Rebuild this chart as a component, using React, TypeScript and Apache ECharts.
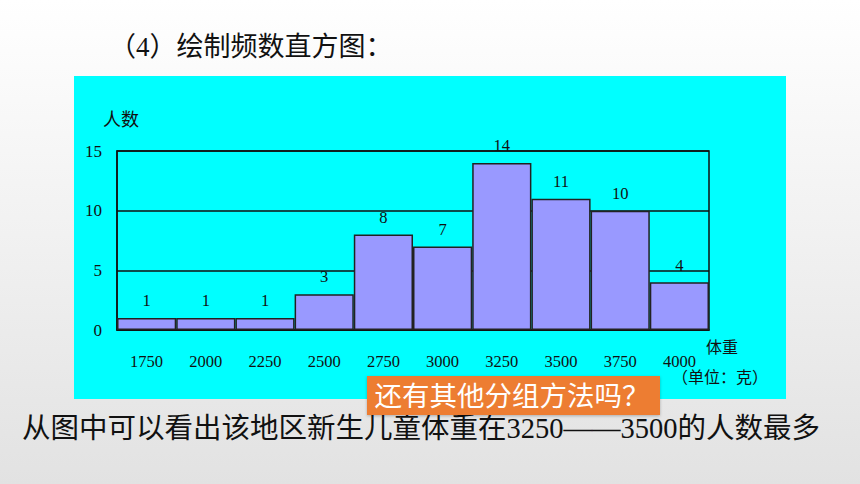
import React, { useEffect, useRef } from "react";
import * as echarts from "echarts";

const categories = ["1750", "2000", "2250", "2500", "2750", "3000", "3250", "3500", "3750", "4000"];
const counts = [1, 1, 1, 3, 8, 7, 14, 11, 10, 4];
const yMin = 0;
const yMax = 15;
const yInterval = 5;

const titleText = "（4）绘制频数直方图：";
const yName = "人数";
const xName = "体重";
const xUnit = "（单位：克）";
const questionText = "还有其他分组方法吗？";
const conclusionText = "从图中可以看出该地区新生儿童体重在3250——3500的人数最多";

const FONT = "'Liberation Serif', 'Noto Sans CJK SC', serif";

export default function App() {
  const ref = useRef<HTMLDivElement>(null);
  useEffect(() => {
    if (!ref.current) return;
    const chart = echarts.init(ref.current, undefined, { renderer: "svg" });
    chart.setOption({
      animation: false,
      backgroundColor: new echarts.graphic.LinearGradient(0, 0, 0, 1, [
        { offset: 0, color: "#ffffff" },
        { offset: 1, color: "#e2e2e2" },
      ]),
      textStyle: { fontFamily: FONT },
      grid: {
        left: 117,
        right: 151,
        top: 151,
        bottom: 154,
        show: true,
        borderColor: "#111",
        borderWidth: 1.5,
        z: 1,
      },
      xAxis: {
        type: "category",
        data: categories,
        boundaryGap: true,
        axisLine: { show: true, lineStyle: { color: "#111", width: 1.5 } },
        axisTick: { show: false },
        axisLabel: { color: "#111", fontSize: 16.5, fontFamily: FONT, margin: 23 },
        splitLine: { show: false },
      },
      yAxis: {
        type: "value",
        min: yMin,
        max: yMax,
        interval: yInterval,
        axisLine: { show: true, lineStyle: { color: "#111", width: 1.5 } },
        axisTick: { show: false },
        axisLabel: { color: "#111", fontSize: 17, fontFamily: FONT, margin: 15 },
        splitLine: { show: true, lineStyle: { color: "#111", width: 1.5 } },
      },
      series: [
        {
          type: "bar",
          data: counts,
          barCategoryGap: "0%",
          barWidth: "100%",
          itemStyle: { color: "#9999ff", borderColor: "#222", borderWidth: 1.5 },
          label: {
            show: true,
            position: "top",
            distance: 9,
            color: "#111",
            fontSize: 16.5,
            fontFamily: FONT,
          },
          z: 3,
        },
      ],
      graphic: [
        {
          type: "rect",
          z: -10,
          shape: { x: 74, y: 76, width: 712, height: 323 },
          style: { fill: "#00ffff" },
        },
        {
          type: "text",
          x: 109,
          y: 47,
          z: 10,
          style: {
            text: titleText,
            fontSize: 27,
            fontFamily: FONT,
            fill: "#111",
            verticalAlign: "middle",
          },
        },
        {
          type: "text",
          x: 103,
          y: 120,
          z: 10,
          style: { text: yName, fontSize: 18, fontFamily: FONT, fill: "#111", verticalAlign: "middle" },
        },
        {
          type: "text",
          x: 706,
          y: 347,
          z: 10,
          style: { text: xName, fontSize: 16, fontFamily: FONT, fill: "#111", verticalAlign: "middle" },
        },
        {
          type: "text",
          x: 672,
          y: 377,
          z: 10,
          style: { text: xUnit, fontSize: 16, fontFamily: FONT, fill: "#111", verticalAlign: "middle" },
        },
        {
          type: "rect",
          z: 20,
          shape: { x: 367, y: 376, width: 293, height: 39 },
          style: { fill: "#ed7d31", shadowBlur: 3, shadowColor: "rgba(0,0,0,0.25)", shadowOffsetY: 1 },
        },
        {
          type: "text",
          x: 512,
          y: 396,
          z: 21,
          style: {
            text: questionText,
            fontSize: 27.5,
            fontFamily: FONT,
            fill: "#ffffff",
            align: "center",
            verticalAlign: "middle",
          },
        },
        {
          type: "text",
          x: 22,
          y: 428,
          z: 10,
          style: {
            text: conclusionText,
            fontSize: 28.5,
            fontFamily: FONT,
            fill: "#111",
            verticalAlign: "middle",
          },
        },
      ],
    });
    return () => chart.dispose();
  }, []);
  return (
    <div
      ref={ref}
      style={{ position: "fixed", left: 0, top: 0, width: 860, height: 484 }}
    />
  );
}
